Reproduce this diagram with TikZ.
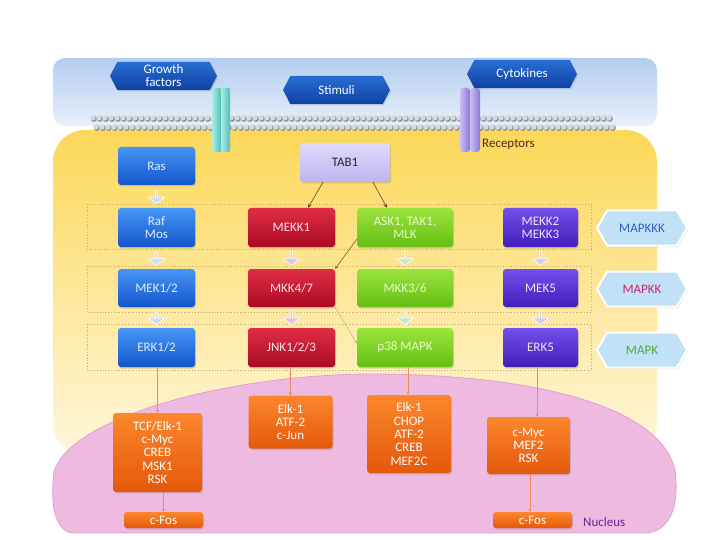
\documentclass[tikz,border=0pt]{standalone}
\usepackage{fontspec}
\setmainfont{Carlito}
\usetikzlibrary{shapes.symbols,shapes.arrows,shadows,calc,arrows.meta}
\definecolor{bandT}{RGB}{178,205,240}
\definecolor{bandB}{RGB}{232,240,250}
\definecolor{yelT}{RGB}{252,216,88}
\definecolor{yelM}{RGB}{254,232,150}
\definecolor{yelB}{RGB}{255,246,220}
\definecolor{nucF}{RGB}{238,186,224}
\definecolor{nucD}{RGB}{222,160,208}
\definecolor{blueT}{RGB}{70,150,245}
\definecolor{blueB}{RGB}{20,85,205}
\definecolor{redT}{RGB}{225,45,70}
\definecolor{redB}{RGB}{170,10,35}
\definecolor{greenT}{RGB}{155,228,60}
\definecolor{greenB}{RGB}{100,190,20}
\definecolor{purT}{RGB}{115,80,235}
\definecolor{purB}{RGB}{65,30,185}
\definecolor{oraT}{RGB}{252,135,45}
\definecolor{oraB}{RGB}{228,88,10}
\definecolor{ligT}{RGB}{40,110,210}
\definecolor{ligB}{RGB}{15,65,165}
\definecolor{tabT}{RGB}{225,218,252}
\definecolor{tabB}{RGB}{190,180,240}
\definecolor{labF}{RGB}{192,225,246}
\definecolor{dotc}{RGB}{200,168,110}
\definecolor{oline}{RGB}{235,140,95}
\definecolor{brownl}{RGB}{110,60,40}
\definecolor{brownm}{RGB}{150,75,40}
\definecolor{greenl}{RGB}{170,205,110}
\definecolor{tealL}{RGB}{170,238,228}
\definecolor{tealD}{RGB}{80,190,185}
\definecolor{purL}{RGB}{200,190,245}
\definecolor{purD}{RGB}{140,120,215}
\definecolor{txtBlue}{RGB}{225,236,255}
\definecolor{txtRed}{RGB}{255,226,232}
\definecolor{txtGreen}{RGB}{232,248,205}
\definecolor{txtPur}{RGB}{236,230,255}
\definecolor{nucTxt}{RGB}{100,40,155}
\definecolor{recTxt}{RGB}{85,40,35}
\definecolor{lab3}{RGB}{45,95,200}
\definecolor{lab2}{RGB}{200,40,110}
\definecolor{lab1}{RGB}{80,170,60}
\definecolor{chB}{RGB}{200,222,250}
\definecolor{chR}{RGB}{225,195,228}
\definecolor{chG}{RGB}{200,232,205}
\definecolor{chP}{RGB}{210,205,242}
\definecolor{membD}{RGB}{135,142,150}
\definecolor{membL}{RGB}{212,218,222}
\newcommand{\bxfont}{\fontsize{13}{13.3}\selectfont}
\begin{document}
\begin{tikzpicture}[x=1pt,y=-1pt,
  box/.style={rounded corners=3pt, align=center, font=\bxfont, inner sep=1pt,
    drop shadow={opacity=.3, shadow xshift=1pt, shadow yshift=-1.5pt}},
  bluebox/.style={box, top color=blueT, bottom color=blueB, text=txtBlue, minimum width=77pt, minimum height=39pt},
  redbox/.style={box, top color=redT, bottom color=redB, text=txtRed, minimum width=87pt, minimum height=39pt},
  greenbox/.style={box, top color=greenT, bottom color=greenB, text=txtGreen, minimum width=96pt, minimum height=39pt},
  purbox/.style={box, top color=purT, bottom color=purB, text=txtPur, minimum width=75pt, minimum height=39pt},
  orabox/.style={box, top color=oraT, bottom color=oraB, text=white},
  tabbox/.style={box, top color=tabT, bottom color=tabB, text=black!85, minimum width=90pt, minimum height=39pt},
  lig/.style={signal, signal to=west and east, signal pointer angle=125, top color=ligT, bottom color=ligB,
    text=white, align=center, font=\fontsize{13}{13}\selectfont, inner sep=0.5pt, minimum height=28pt,
    drop shadow={opacity=.3, shadow xshift=1pt, shadow yshift=-1.5pt}},
  hexlab/.style={signal, signal to=west and east, signal pointer angle=120, fill=labF, draw=white, line width=2pt,
    minimum width=90pt, minimum height=35pt, font=\fontsize{13}{13}\selectfont,
    drop shadow={opacity=.25, shadow xshift=1pt, shadow yshift=-1.5pt}},
  chev/.style={single arrow, rotate=-90, single arrow head extend=2.5pt, single arrow tip angle=100,
    minimum height=14pt, minimum width=16pt, inner sep=0pt, draw=white, line width=.6pt, fill=#1},
  dotrow/.style={draw=dotc, dotted, line width=.8pt},
  oarrow/.style={draw=oline, line width=.7pt, -{Stealth[length=3pt,width=3pt]}},
  thinarrow/.style={draw=brownl, line width=.6pt, -{Stealth[length=4pt,width=3.5pt]}}
]
\useasboundingbox (0,0) rectangle (720,540);
\fill[white] (0,0) rectangle (720,540);

% extracellular band
\shade[top color=bandT, bottom color=bandB, rounded corners=12pt] (53,58) rectangle (657,126);
% cytoplasm
\shade[top color=yelT, middle color=yelM, bottom color=yelB, rounded corners=32pt] (53,130) rectangle (657,455);
% membrane
\foreach \i in {0,...,86} {
  \pgfmathsetmacro{\xx}{93+6*\i}
  \fill[membD] (\xx+0.8,118.8) circle (3.1);
  \fill[membL] (\xx,118) circle (2.6);
  \fill[membD] (\xx+3.8,127.8) circle (3.1);
  \fill[membL] (\xx+3,127) circle (2.6);
}
% receptors
\shade[left color=tealL, right color=tealD, rounded corners=1.5pt] (212,88) rectangle (221,152);
\shade[left color=tealL, right color=tealD, rounded corners=1.5pt] (221,88) rectangle (230,152);
\shade[left color=purL, right color=purD, rounded corners=3pt] (460,88) rectangle (470,152);
\shade[left color=purL, right color=purD, rounded corners=3pt] (470,88) rectangle (480,152);
\node[anchor=west, text=recTxt, font=\fontsize{13}{13}\selectfont, inner sep=0pt] (rec) at (482,144) {Receptors};

% ligands
\node[lig, minimum width=107pt] (gf) at (163.5,76) {Growth\\factors};
\node[lig, minimum width=107pt] (stim) at (336.5,90) {Stimuli};
\node[lig, minimum width=110pt] (cyto) at (522,74) {Cytokines};

% dotted rows
\draw[dotrow] (87,204) rectangle (591,249);
\draw[dotrow] (87,266) rectangle (591,312);
\draw[dotrow] (87,324) rectangle (591,370);

% nucleus
\fill[nucF, draw=nucD, line width=.8pt] (72,533) .. controls (55,530) and (50,505) .. (54,472)
  .. controls (68,420) and (220,375) .. (370,374)
  .. controls (530,374) and (660,405) .. (675,470)
  .. controls (680,510) and (668,532) .. (645,533) -- cycle;
\node[anchor=west, text=nucTxt, font=\fontsize{13}{13}\selectfont, inner sep=0pt] (nuc) at (583,522) {Nucleus};

% top nodes
\node[bluebox, minimum height=38pt] (ras) at (156.5,166) {Ras};
\node[tabbox] (tab) at (345,162.5) {TAB1};

% MAPKKK row
\node[bluebox] (raf) at (156.5,227.5) {Raf\\Mos};
\node[redbox] (mekk1) at (291.5,227.5) {MEKK1};
\node[greenbox] (ask) at (405,227.5) {ASK1, TAK1,\\MLK};
\node[purbox] (mekk23) at (540.5,227.5) {MEKK2\\MEKK3};
% MAPKK row
\node[bluebox, minimum height=38pt] (mek12) at (156.5,288) {MEK1/2};
\node[redbox, minimum height=38pt] (mkk47) at (291.5,288) {MKK4/7};
\node[greenbox, minimum height=38pt] (mkk36) at (405,288) {MKK3/6};
\node[purbox, minimum height=38pt] (mek5) at (540.5,288) {MEK5};
% MAPK row
\node[bluebox] (erk12) at (156.5,347.5) {ERK1/2};
\node[redbox] (jnk) at (291.5,347.5) {JNK1/2/3};
\node[greenbox] (p38) at (405,347.5) {p38 MAPK};
\node[purbox] (erk5) at (540.5,347.5) {ERK5};

% level labels
\node[hexlab, text=lab3] (lk3) at (642,228) {MAPKKK};
\node[hexlab, text=lab2] (lk2) at (642,289) {MAPKK};
\node[hexlab, text=lab1] (lk1) at (642,350) {MAPK};

% chevrons
\node[chev=chB] (c0) at ($(ras.south)!0.5!(raf.north)$) {};
\node[chev=chB] (c1) at ($(raf.south)!0.5!(mek12.north)$) {};
\node[chev=chB] (c2) at ($(mek12.south)!0.5!(erk12.north)$) {};
\node[chev=chR] (c3) at ($(mekk1.south)!0.5!(mkk47.north)$) {};
\node[chev=chR] (c4) at ($(mkk47.south)!0.5!(jnk.north)$) {};
\node[chev=chG] (c5) at ($(ask.south)!0.5!(mkk36.north)$) {};
\node[chev=chG] (c6) at ($(mkk36.south)!0.5!(p38.north)$) {};
\node[chev=chP] (c7) at ($(mekk23.south)!0.5!(mek5.north)$) {};
\node[chev=chP] (c8) at ($(mek5.south)!0.5!(erk5.north)$) {};

% nuclear targets
\node[orabox, minimum width=89pt, minimum height=79pt] (tcf) at (157.5,452.5) {TCF/Elk-1\\c-Myc\\CREB\\MSK1\\RSK};
\node[orabox, minimum width=84pt, minimum height=53pt] (jt) at (290.5,422) {Elk-1\\ATF-2\\c-Jun};
\node[orabox, minimum width=84pt, minimum height=78pt] (pt) at (409,434) {Elk-1\\CHOP\\ATF-2\\CREB\\MEF2C};
\node[orabox, minimum width=83pt, minimum height=57pt] (et) at (528.5,445.5) {c-Myc\\MEF2\\RSK};
\node[orabox, minimum width=79pt, minimum height=16pt] (fos1) at (163.5,520) {c-Fos};
\node[orabox, minimum width=79pt, minimum height=16pt] (fos2) at (532.5,520) {c-Fos};

% connectors
\draw[thinarrow] ([xshift=-22pt]tab.south) -- ([xshift=16.5pt]mekk1.north);
\draw[thinarrow] ([xshift=28pt]tab.south) -- ([xshift=-18pt]ask.north);
\draw[draw=brownm, line width=.6pt, -{Stealth[length=3pt,width=3pt]}] ($(ask.south west)+(0,-8)$) -- (mkk47.north east);
\draw[draw=greenl, line width=.6pt, -{Stealth[length=3pt,width=3pt]}] (mkk47.south east) -- ($(p38.west)+(0,-4)$);
\draw[oarrow] (tcf.north |- erk12.south) -- (tcf.north);
\draw[oarrow] (jt.north |- jnk.south) -- (jt.north);
\draw[oarrow] ([xshift=3pt]p38.south) -- ([xshift=3pt]p38.south |- pt.north);
\draw[oarrow] ([xshift=-3.5pt]erk5.south) -- ([xshift=-3.5pt]erk5.south |- et.north);
\draw[oarrow] (fos1.north |- tcf.south) -- (fos1.north);
\draw[oarrow] ([xshift=1.5pt]et.south) -- ([xshift=1.5pt]et.south |- fos2.north);
\end{tikzpicture}
\end{document}
